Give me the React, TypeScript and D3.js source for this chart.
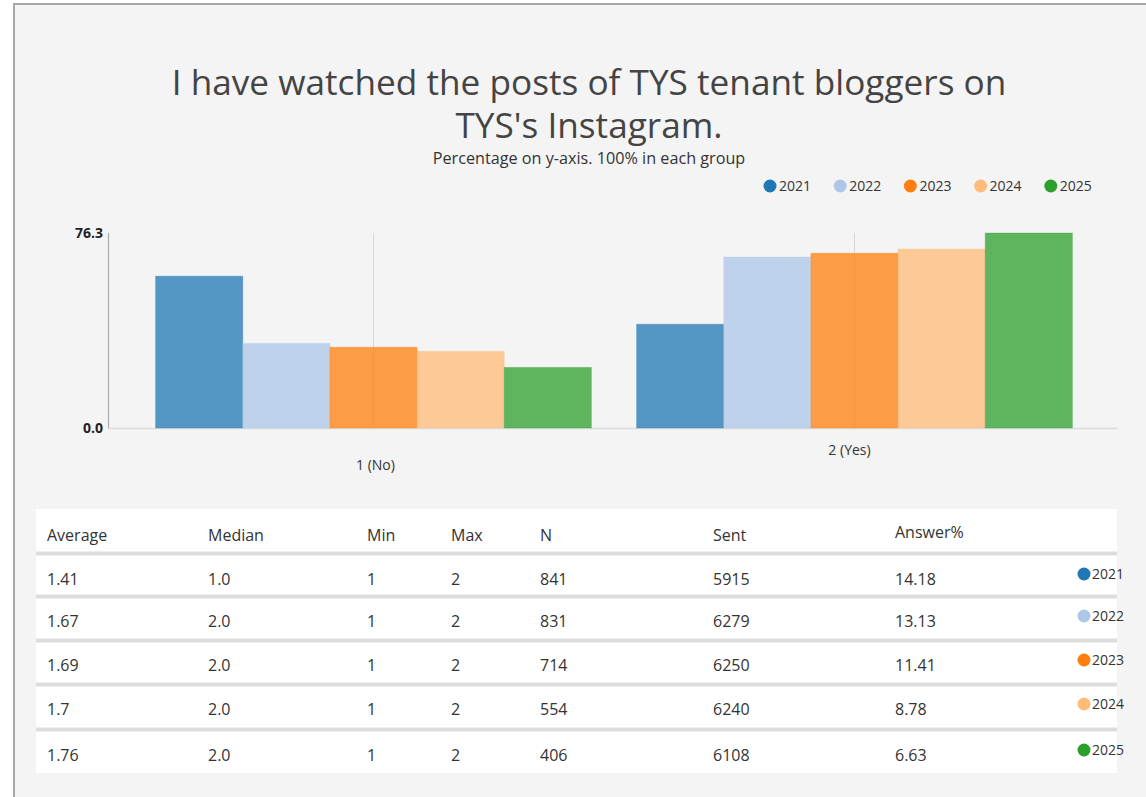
import React, { useEffect, useRef } from "react";
import * as d3 from "d3";

const years = ["2021", "2022", "2023", "2024", "2025"];
const colors = ["#1f77b4", "#aec7e8", "#ff7f0e", "#ffbb78", "#2ca02c"];
const categories = ["1 (No)", "2 (Yes)"];
const noValues = [59.4, 33.1, 31.6, 30.0, 23.7];
const yesValues = [40.6, 66.9, 68.4, 70.0, 76.3];
const yTicks = [0, 76.3];

const tableHeaders = ["Average", "Median", "Min", "Max", "N", "Sent", "Answer%"];
const averages = ["1.41", "1.67", "1.69", "1.7", "1.76"];
const medians = ["1.0", "2.0", "2.0", "2.0", "2.0"];
const mins = ["1", "1", "1", "1", "1"];
const maxs = ["2", "2", "2", "2", "2"];
const ns = ["841", "831", "714", "554", "406"];
const sents = ["5915", "6279", "6250", "6240", "6108"];
const answerPcts = ["14.18", "13.13", "11.41", "8.78", "6.63"];

const FONT = "'Open Sans', sans-serif";

export default function App() {
  const ref = useRef<SVGSVGElement>(null);

  useEffect(() => {
    document.body.style.margin = "0";
    const svg = d3.select(ref.current);
    svg.selectAll("*").remove();

    // card
    svg.append("rect").attr("x", 14).attr("y", 4).attr("width", 1150).attr("height", 810)
      .attr("fill", "#f4f4f4").attr("stroke", "#a8a8a8").attr("stroke-width", 2);

    // title (two lines)
    svg.append("text").attr("x", 589).attr("y", 95).attr("text-anchor", "middle").attr("font-family", FONT)
      .attr("font-size", 35.2).attr("fill", "#444").text("I have watched the posts of TYS tenant bloggers on");
    svg.append("text").attr("x", 589).attr("y", 138).attr("text-anchor", "middle").attr("font-family", FONT)
      .attr("font-size", 35.2).attr("fill", "#444").text("TYS's Instagram.");
    svg.append("text").attr("x", 589).attr("y", 164).attr("text-anchor", "middle")
      .attr("font-family", FONT).attr("font-size", 16.2).attr("fill", "#333")
      .text("Percentage on y-axis. 100% in each group");

    // legend
    const legend = svg.append("g");
    years.forEach((yr, i) => {
      const lx = 770 + i * 70.2;
      legend.append("circle").attr("cx", lx).attr("cy", 186).attr("r", 6.5).attr("fill", colors[i]);
      legend.append("text").attr("x", lx + 9).attr("y", 191).attr("font-family", FONT)
        .attr("font-size", 14).attr("fill", "#333").text(yr);
    });

    // chart
    const y = d3.scaleLinear().domain([0, 76.3]).range([428, 233]);
    const x0 = d3.scaleBand().domain(categories).range([133, 1095]).paddingInner(0.094).paddingOuter(0.047);
    const x1 = d3.scaleBand().domain(years).range([0, x0.bandwidth()]);

    categories.forEach((c) => {
      const cx = (x0(c) as number) + x0.bandwidth() / 2;
      svg.append("line").attr("x1", cx).attr("x2", cx).attr("y1", y(76.3)).attr("y2", y(0))
        .attr("stroke", "#d8d8d8").attr("stroke-width", 1);
    });
    svg.append("line").attr("x1", 108).attr("x2", 1118).attr("y1", y(0) + 0.5).attr("y2", y(0) + 0.5)
      .attr("stroke", "#dcdcdc").attr("stroke-width", 1.5);
    svg.append("line").attr("x1", 108.5).attr("x2", 108.5).attr("y1", y(76.3)).attr("y2", y(0))
      .attr("stroke", "#aaa").attr("stroke-width", 1.2);

    yTicks.forEach((t) => {
      svg.append("text").attr("x", 103).attr("y", y(t) + 5).attr("text-anchor", "end")
        .attr("font-family", FONT).attr("font-size", 14).attr("font-weight", "bold").attr("fill", "#222")
        .text(t.toFixed(1));
    });

    const series = [noValues, yesValues];
    categories.forEach((c, ci) => {
      years.forEach((yr, yi) => {
        const v = series[ci][yi];
        svg.append("rect")
          .attr("x", (x0(c) as number) + (x1(yr) as number))
          .attr("y", y(v))
          .attr("width", x1.bandwidth())
          .attr("height", y(0) - y(v))
          .attr("fill", colors[yi]).attr("fill-opacity", 0.75)
          .attr("stroke", colors[yi]).attr("stroke-opacity", 0.3).attr("stroke-width", 1);
      });
    });

    categories.forEach((c, ci) => {
      const cx = (x0(c) as number) + x0.bandwidth() / 2;
      svg.append("text").attr("x", cx + (ci === 0 ? 2 : -5)).attr("y", ci === 0 ? 470 : 455)
        .attr("text-anchor", "middle").attr("font-family", FONT).attr("font-size", 14).attr("fill", "#333")
        .text(c);
    });

    // table
    svg.append("rect").attr("x", 36).attr("y", 509).attr("width", 1081).attr("height", 264).attr("fill", "#fff");
    const colX = [47, 208, 367, 451, 540, 713, 895];
    const headerY = [541, 541, 541, 541, 541, 541, 538];
    tableHeaders.forEach((h, i) => {
      svg.append("text").attr("x", colX[i]).attr("y", headerY[i]).attr("font-family", FONT)
        .attr("font-size", 16).attr("fill", "#333").text(h);
    });
    const sepY = [553.5, 596.5, 640.5, 684.5, 729.5];
    sepY.forEach((sy) => {
      svg.append("rect").attr("x", 36).attr("y", sy - 2).attr("width", 1081).attr("height", 4).attr("fill", "#dddddd");
    });
    const rowY = [585, 627, 671, 715, 761];
    const cols = [averages, medians, mins, maxs, ns, sents, answerPcts];
    years.forEach((yr, r) => {
      cols.forEach((col, ci) => {
        svg.append("text").attr("x", colX[ci]).attr("y", rowY[r]).attr("font-family", FONT)
          .attr("font-size", 16).attr("fill", "#333").text(col[r]);
      });
      const ly = rowY[r] - 11;
      svg.append("circle").attr("cx", 1084).attr("cy", ly).attr("r", 6.5).attr("fill", colors[r]);
      svg.append("text").attr("x", 1092).attr("y", ly + 5).attr("font-family", FONT)
        .attr("font-size", 14).attr("fill", "#333").text(yr);
    });
  }, []);

  return (
    <svg ref={ref} width={1146} height={797} style={{ position: "absolute", left: 0, top: 0, display: "block" }} />
  );
}
